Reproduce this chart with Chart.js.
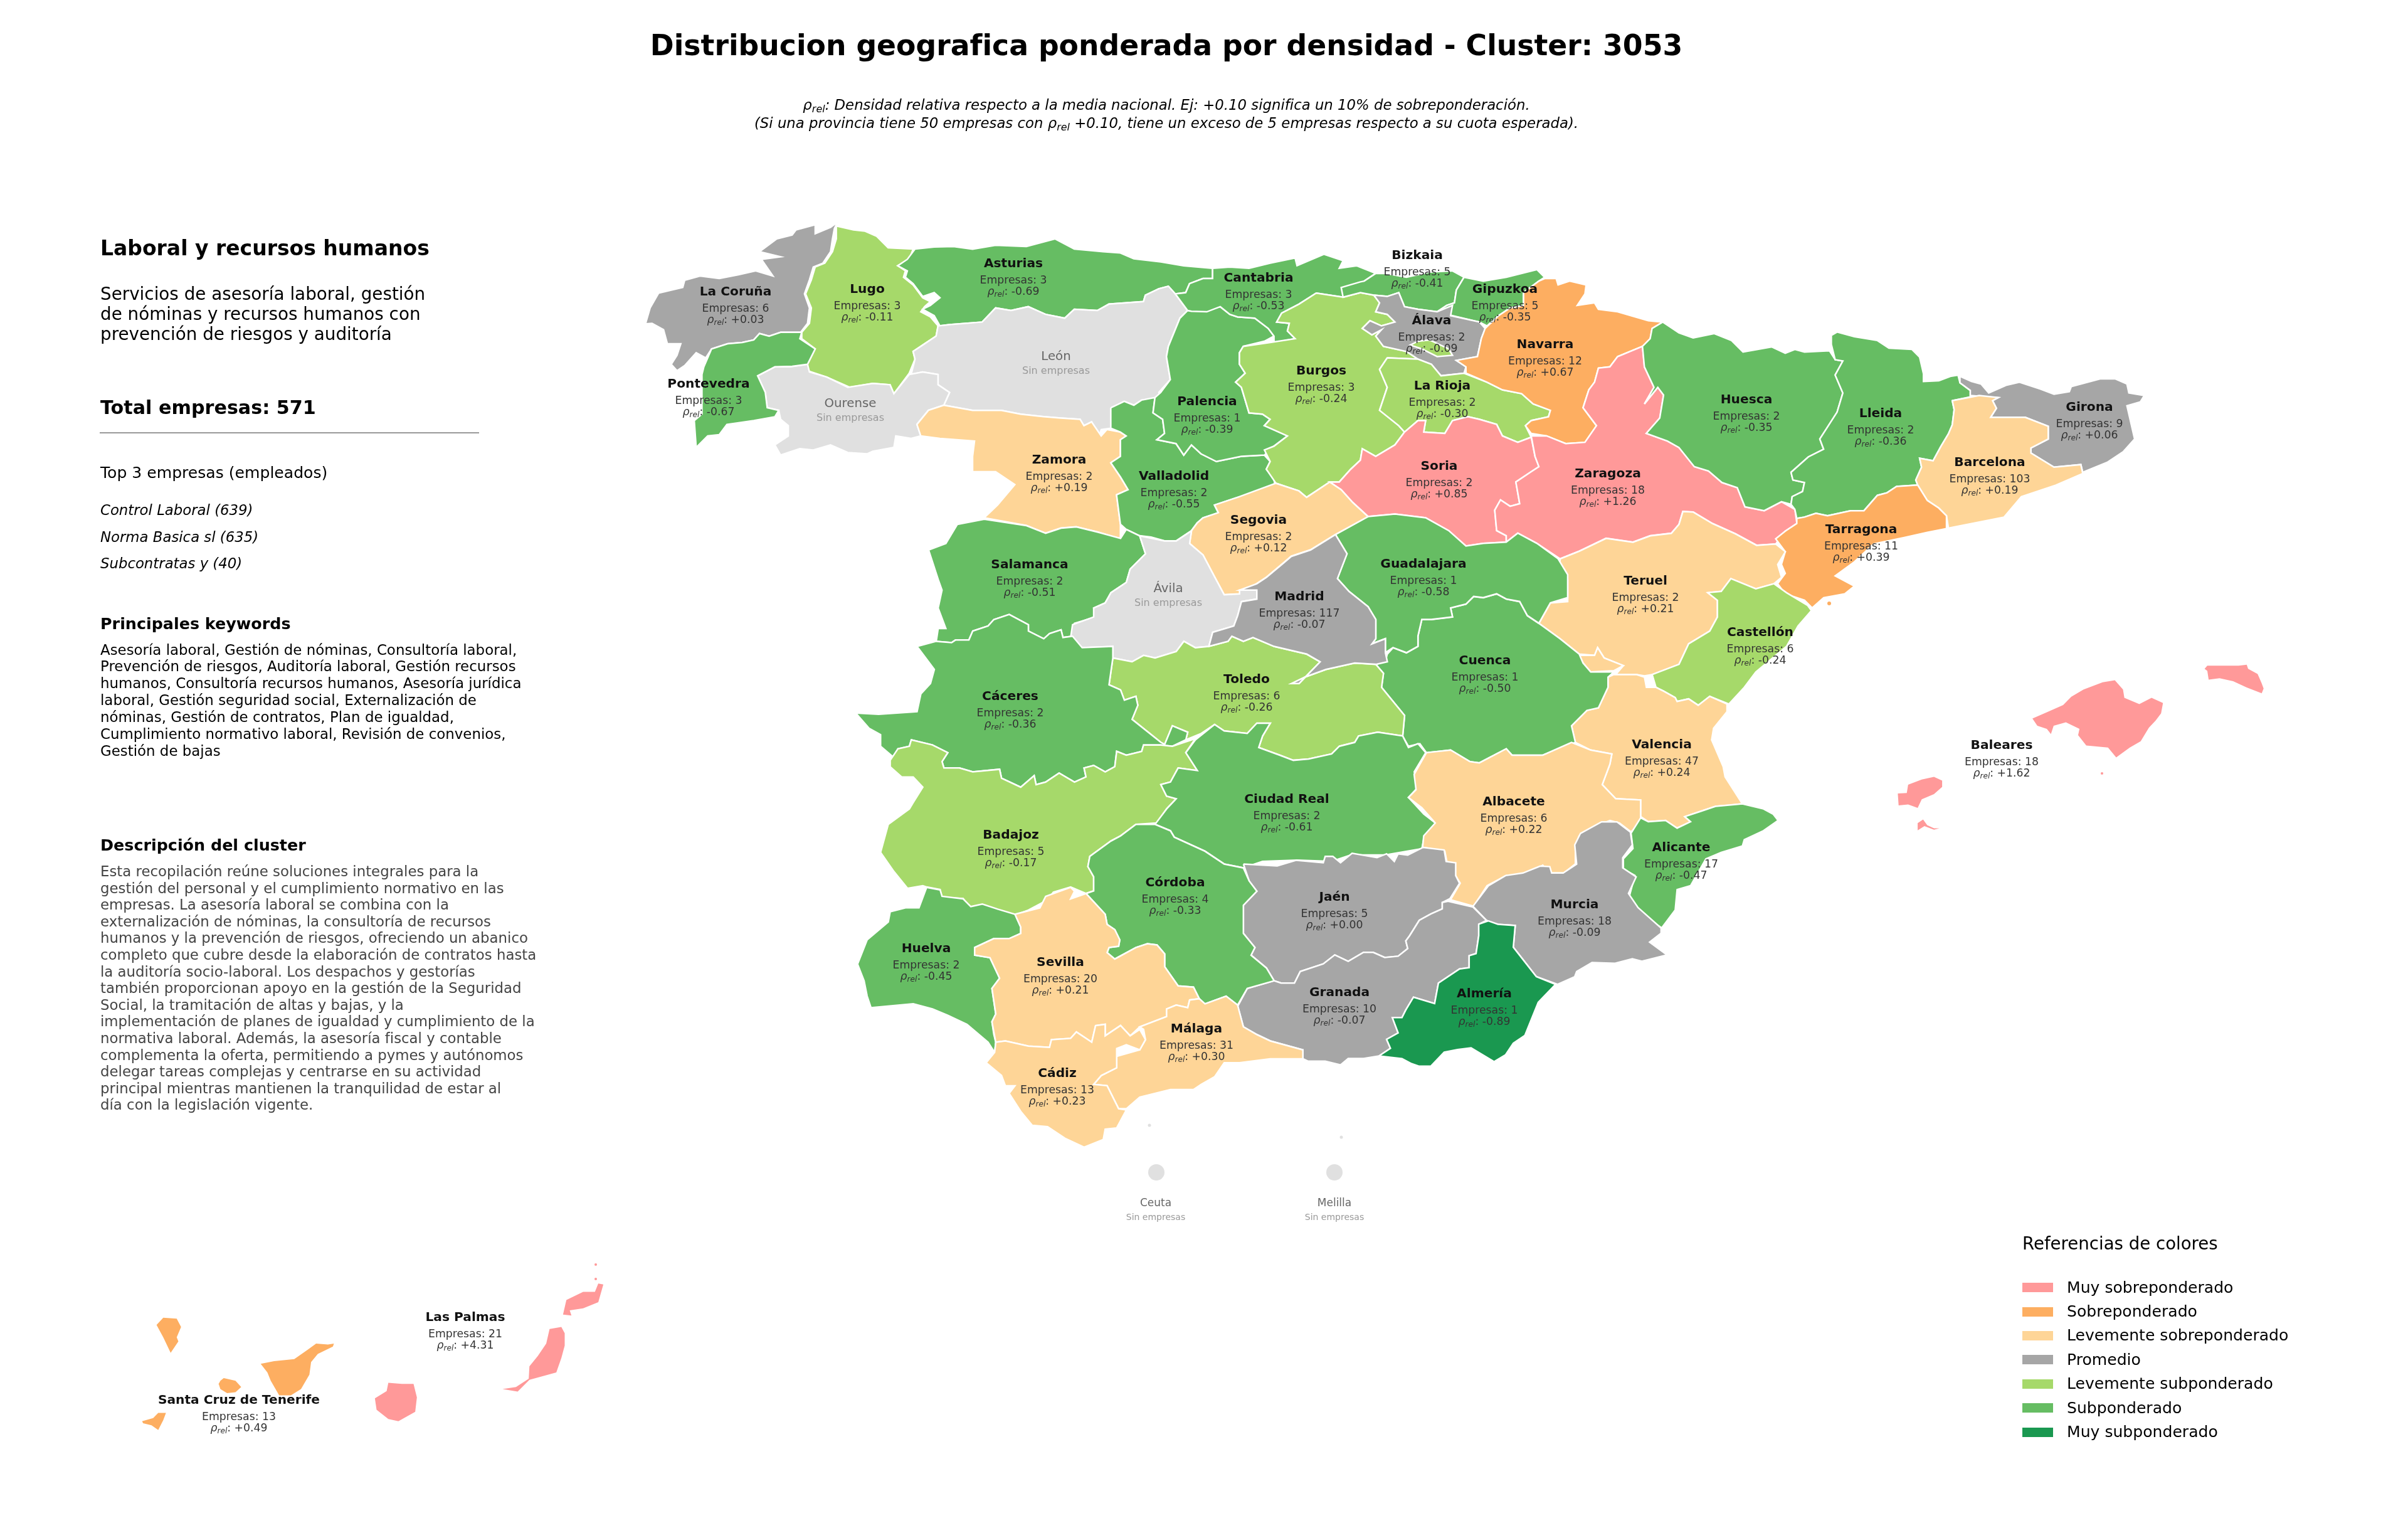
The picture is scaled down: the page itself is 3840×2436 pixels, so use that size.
<!DOCTYPE html>
<html lang="es">
<head>
<meta charset="utf-8">
<title>Cluster 3053</title>
<script src="https://cdn.jsdelivr.net/npm/chart.js@4"></script>
<style>
  html, body { margin: 0; padding: 0; background: #fff; }
  body { position: relative; width: 3840px; height: 2436px; overflow: hidden; font-family: "DejaVu Sans", sans-serif; color: #000; }
  canvas { position: absolute; left: 0; top: 0; display: block; }
  .t { position: absolute; white-space: nowrap; line-height: 1; }
  .c { transform: translate(-50%, -50%); }
  .l { transform: translateY(-50%); }
  sub { font-size: .7em; line-height: 0; vertical-align: -.25em; }
  .name { font-size: 20.2px; font-weight: bold; color: #111; }
  .emp { font-size: 17.3px; color: #333; }
  #panel, #labels, #legend { position: absolute; left: 0; top: 0; }
</style>
</head>
<body>
<canvas id="mapa" width="3840" height="2436"></canvas>
<div id="labels"></div>
<div id="panel"></div>
<div id="legend"></div>
<script>
// Marcos de lectura: cada contorno se leyo de un recorte de la imagen
const A = [1000, 340, .6122, .408], B = [1900, 340, .6122, .408], C = [2700, 500, .6122, .408];
const D = [1340, 900, .6122, .408], E = [2200, 900, .6122, .408], F = [1340, 1380, .6122, .408];
const G = [2000, 1300, .6122, .408], H = [180, 2000, .5357, .33], I = [2980, 1030, .4337, .33];

function trace(f, v) {
  const pts = [];
  for (let i = 0; i < v.length; i += 2) pts.push({ x: f[0] + v[i] * f[2], y: f[1] + v[i + 1] * f[3] });
  pts.push(pts[0]);
  return pts;
}

// Datos por provincia
const provinces = ['La Coruña','Lugo','Asturias','Cantabria','Bizkaia','Gipuzkoa','Álava','Navarra','Pontevedra','Ourense','León','Palencia','Burgos','La Rioja','Huesca','Lleida','Girona','Barcelona','Tarragona','Zaragoza','Soria','Zamora','Valladolid','Segovia','Guadalajara','Teruel','Castellón','Salamanca','Ávila','Madrid','Cáceres','Toledo','Cuenca','Valencia','Badajoz','Ciudad Real','Albacete','Alicante','Córdoba','Jaén','Murcia','Huelva','Sevilla','Granada','Almería','Málaga','Cádiz','Baleares','Las Palmas','Santa Cruz de Tenerife','Ceuta','Melilla'];
const empresas = [6,3,3,3,5,5,2,12,3,0,0,1,3,2,2,2,9,103,11,18,2,2,2,2,1,2,6,2,0,117,2,6,1,47,5,2,6,17,4,5,18,2,20,10,1,31,13,18,21,13,0,0];
const rho = [.03,-.11,-.69,-.53,-.41,-.35,-.09,.67,-.67,null,null,-.39,-.24,-.30,-.35,-.36,.06,.19,.39,1.26,.85,.19,-.55,.12,-.58,.21,-.24,-.51,null,-.07,-.36,-.26,-.50,.24,-.17,-.61,.22,-.47,-.33,0,-.09,-.45,.21,-.07,-.89,.30,.23,1.62,4.31,.49,null,null];
const labelX = [1173,1383,1616,2007,2260,2400,2283,2464,1130,1356,1684,1925,2107,2300,2785,2999,3332,3173,2968,2564,2295,1689,1872,2007,2270,2624,2807,1642,1863,2072,1611,1988,2368,2650,1612,2052,2414,2681,1874,2128,2511,1477,1691,2136,2367,1908,1686,3192,742,381,1843,2128];
const labelY = [464,460,419,442,406,460,510,548,611,643,568,639,590,614,636,658,648,736,843,754,742,732,758,828,898,925,1007,899,938,950,1109,1082,1052,1186,1330,1273,1277,1350,1406,1429,1441,1511,1533,1581,1583,1639,1710,1187,2099,2231,1917,1917];

const legendLabels = ['Muy sobreponderado','Sobreponderado','Levemente sobreponderado','Promedio','Levemente subponderado','Subponderado','Muy subponderado'];
const legendColors = ['#ff9999','#fdae61','#fed597','#a6a6a6','#a6d96a','#66bd63','#1a9850'];
const noDataColor = '#e0e0e0';

// Contornos
const coruna = trace(A,[548,35,540,60,535,100,530,150,510,195,485,210,475,260,462,315,475,370,470,430,452,465,400,465,370,480,345,470,330,495,300,505,262,510,220,530,205,565,180,545,150,595,130,615,115,590,130,555,140,510,105,510,95,455,65,430,48,432,60,370,82,312,145,290,150,262,190,245,240,255,290,240,335,225,380,245,350,180,400,170,345,150,390,100,430,85,440,65,490,45,490,80,530,55]);
const lugo = trace(A,[545,50,590,65,620,70,650,90,680,135,745,140,735,180,705,205,725,225,720,250,745,280,770,330,790,345,775,365,765,385,790,405,810,440,805,480,770,515,745,540,750,570,735,625,695,705,685,670,640,665,580,680,520,640,470,615,470,590,490,530,455,490,455,465,475,430,480,370,465,315,480,260,490,210,515,195,535,150,545,100]);
const asturias = trace(A,[750,140,800,132,850,130,900,140,960,125,1040,130,1115,100,1165,140,1240,150,1285,155,1320,178,1390,190,1450,205,1525,215,1525,255,1500,255,1465,275,1455,310,1428,315,1410,285,1385,295,1350,320,1345,345,1300,350,1255,355,1225,380,1165,375,1140,410,1090,395,1045,365,1000,380,960,370,925,425,840,435,815,440,800,400,770,375,790,360,815,330,800,310,770,325,745,275,725,250,730,225,705,205,730,180]);
const leon = trace(A,[840,435,925,425,960,370,1000,380,1045,365,1090,395,1140,410,1165,375,1225,380,1255,355,1345,345,1350,320,1385,295,1410,285,1428,315,1460,380,1440,410,1410,520,1405,560,1415,650,1385,700,1390,720,1340,730,1320,750,1295,735,1265,760,1260,840,1235,845,1230,870,1210,815,1190,830,1180,805,1130,800,1085,795,1025,785,975,770,900,770,825,750,840,700,810,670,810,630,770,620,740,630,750,570,745,540,770,515,805,480,810,440]);
const ourense = trace(A,[340,635,385,600,425,600,470,590,475,620,520,640,575,680,640,665,685,670,695,705,735,630,770,620,810,630,810,670,840,700,825,750,785,770,755,825,765,870,740,880,700,870,695,915,640,930,625,940,575,935,530,905,485,925,450,920,400,945,385,905,420,870,420,830,400,805,395,770,365,760,360,700]);
const pontevedra = trace(A,[455,465,450,490,490,530,470,590,430,598,385,600,340,635,360,700,365,760,395,770,385,795,330,810,285,820,260,825,240,865,210,870,180,915,175,810,195,785,195,630,200,600,220,530,262,510,300,505,330,495,345,470,370,480,400,465]);
const zamora = trace(A,[825,750,900,770,975,770,1025,785,1085,795,1130,800,1180,805,1190,830,1210,815,1235,870,1250,845,1285,855,1300,870,1285,885,1285,950,1260,975,1285,1030,1305,1080,1275,1100,1285,1215,1285,1270,1270,1265,1225,1245,1170,1225,1130,1230,1090,1250,1040,1220,930,1190,965,1140,1010,1060,960,1010,900,1010,900,950,905,890,815,880,765,870,755,825,785,770]);
const valladolid = trace(A,[1260,760,1295,735,1320,750,1340,730,1375,720,1370,780,1395,805,1400,860,1380,885,1430,900,1450,945,1470,905,1495,940,1535,970,1600,950,1660,945,1675,970,1665,1000,1685,1040,1690,1080,1590,1110,1530,1140,1540,1170,1500,1190,1485,1210,1470,1240,1430,1280,1400,1280,1365,1265,1335,1260,1300,1235,1285,1215,1275,1100,1305,1080,1285,1030,1260,975,1285,950,1285,885,1300,870,1285,855,1260,840]);
const palencia = trace(A,[1460,380,1510,378,1545,365,1570,395,1590,405,1635,410,1670,450,1685,480,1660,500,1605,520,1595,545,1595,590,1610,625,1585,660,1600,680,1620,780,1655,785,1675,805,1660,830,1720,870,1685,910,1660,945,1600,950,1535,970,1495,940,1470,905,1450,945,1430,900,1380,885,1400,860,1395,805,1370,780,1375,720,1390,700,1415,650,1405,560,1410,520,1440,410]);
const cantabria = trace(B,[55,215,100,210,150,215,205,195,270,175,275,205,345,160,395,185,385,215,430,205,480,235,450,265,440,310,395,328,325,312,280,355,235,390,222,425,255,430,250,460,270,490,215,505,215,480,200,450,165,410,120,405,100,395,75,365,40,385,0,383,-10,380,-42,315,-15,310,-5,275,30,255,55,255]);
const bizkaia = trace(B,[480,235,505,235,560,250,620,230,680,225,710,250,690,300,685,350,665,360,640,385,590,375,555,365,540,310,510,325,475,320,440,310,395,328,390,290,440,268,450,265]);
const gipuzkoa = trace(B,[710,250,760,265,820,250,900,220,920,250,905,265,865,310,865,360,830,370,800,400,770,440,750,425,680,400,640,385,665,360,685,350,690,300]);
const alava = trace(B,[475,320,510,325,540,310,555,365,590,375,640,385,680,360,675,400,750,425,765,450,755,490,745,560,690,575,715,600,710,625,650,635,625,590,590,570,560,540,500,520,480,480,495,455,470,475,445,450,465,420,495,440,530,425,510,395,480,385,490,350]);
const burgos = trace(B,[325,312,395,328,440,310,475,320,490,350,480,385,510,395,530,425,495,440,465,420,445,450,470,475,495,455,480,480,500,520,560,540,590,570,510,565,490,610,510,680,490,770,540,830,555,855,530,905,480,950,445,920,440,965,415,1000,385,1050,360,1050,300,1110,280,1085,220,1055,195,1000,205,970,190,925,215,910,250,870,190,830,205,805,185,785,150,780,130,680,115,660,140,625,125,590,125,545,135,520,205,505,270,490,250,460,255,430,222,425,235,390,280,355]);
const trevino = trace(B,[590,500,620,495,670,530,680,555,640,560,600,530,570,515]);
const rioja = trace(B,[510,565,590,570,625,590,650,635,710,625,770,660,810,690,860,705,890,745,935,770,930,795,885,810,870,830,885,875,850,895,810,870,795,825,750,805,720,795,680,810,660,860,605,855,610,810,590,810,555,855,540,830,490,770,510,680,490,610]);
const navarra = trace(B,[920,255,950,255,955,280,985,265,1028,280,1025,315,1005,360,1050,350,1060,375,1110,385,1190,420,1228,425,1200,450,1195,490,1175,520,1110,560,1090,600,1060,605,1050,660,1035,690,1020,760,1055,830,1025,895,975,900,925,870,885,860,870,830,885,810,930,795,935,770,890,745,860,705,810,690,770,660,715,625,715,600,690,575,745,560,755,490,765,450,800,400,830,370,865,360,865,310,905,265]);
const soria = trace(B,[590,810,610,810,605,855,660,860,680,810,720,795,750,805,795,825,810,870,850,895,885,875,895,950,905,990,885,1010,845,1050,855,1135,830,1145,805,1120,790,1160,795,1240,820,1260,820,1285,760,1290,715,1300,670,1240,610,1190,530,1175,460,1185,420,1130,390,1080,360,1050,385,1050,415,1000,440,965,445,920,480,950,530,905,555,855]);
const zaragoza = trace(B,[885,870,925,870,975,900,1025,895,1055,830,1020,760,1035,690,1050,660,1060,605,1090,600,1110,560,1175,520,1180,600,1205,680,1180,745,1215,680,1230,710,1220,800,1185,860,1240,890,1270,915,1310,990,1347,1007,1382,1052,1422,1072,1442,1147,1492,1162,1537,1127,1572,1157,1577,1212,1547,1242,1522,1292,1472,1297,1417,1252,1357,1212,1307,1167,1280,1165,1270,1215,1250,1250,1195,1260,1150,1285,1080,1270,1010,1320,960,1350,900,1290,850,1250,820,1285,820,1260,795,1240,790,1160,805,1120,830,1145,855,1135,845,1050,885,1010,905,990,895,950]);
const huesca = trace(C,[-79,33,-37,75,0,95,55,78,100,105,130,150,205,130,240,155,265,140,290,150,355,145,370,180,390,185,370,240,390,310,375,385,330,490,340,530,300,560,255,620,260,650,290,660,285,695,258,715,255,745,230,735,185,770,135,755,115,680,75,660,40,615,3,598,-37,523,-67,498,-122,468,-87,408,-77,318,-92,288,-127,353,-102,288,-127,208,-132,128,-112,98,-107,58]);
const lleida = trace(C,[360,85,375,72,420,90,480,105,510,135,570,140,590,170,600,235,600,265,640,262,670,245,690,240,695,270,722,300,722,325,675,340,680,375,675,435,665,470,645,520,625,575,590,565,595,600,580,650,585,670,530,675,505,700,480,710,445,770,410,770,350,790,320,780,290,795,270,800,265,765,255,745,258,715,285,695,290,660,260,650,255,620,300,560,340,530,330,490,375,385,390,310,370,240,390,185,370,180,360,120]);
const girona = trace(C,[695,245,725,265,750,275,770,310,815,280,850,268,905,295,940,315,980,305,985,285,1060,255,1100,255,1130,275,1135,310,1175,320,1165,345,1130,360,1150,490,1120,540,1080,580,1015,620,1010,590,940,600,880,545,880,525,925,490,925,440,865,405,775,405,790,370,780,340,795,328,722,320,722,300,695,270]);
const barcelona = trace(C,[675,340,745,320,795,328,780,340,790,370,775,405,865,405,925,440,925,490,880,525,880,545,940,600,1010,590,1015,625,945,670,855,715,810,795,665,838,660,790,640,760,610,730,585,670,580,650,595,600,590,565,625,575,645,520,665,470,675,435,680,375]);
const tarragona = trace(C,[270,800,290,795,320,780,350,790,410,770,445,770,480,710,505,700,530,675,585,670,610,730,640,760,660,790,660,840,610,855,550,875,470,900,420,970,370,1025,420,1065,395,1095,340,1110,310,1150,290,1120,240,1095,220,1055,240,1015,230,980,240,930,215,880,240,850,270,820]);
const teruel = trace(E,[470,-22,520,-52,590,-102,660,-87,705,-112,760,-122,780,-157,790,-207,817,-205,867,-160,927,-120,982,-75,1032,-80,1057,-50,1037,0,1047,50,1027,75,980,95,915,55,890,105,855,110,880,140,880,205,860,260,805,310,780,390,710,430,690,435,670,430,615,430,635,395,585,365,568,325,560,355,520,350,470,290,415,230,445,150,490,145,490,60,470,20]);
const castellon = trace(E,[1027,75,1060,110,1115,160,1125,180,1090,240,1060,320,980,420,950,480,910,545,860,515,830,550,805,525,775,535,770,520,740,495,720,480,710,430,780,390,805,310,860,260,880,205,880,140,855,110,890,105,915,55,980,95]);
const valencia = trace(E,[610,430,670,430,690,440,695,480,720,480,740,495,770,520,775,535,805,525,830,550,860,515,905,545,905,575,870,640,865,685,895,790,900,830,945,935,915,940,875,945,835,965,795,985,810,1005,775,1030,745,1000,700,1005,680,985,680,920,615,915,580,860,600,780,605,740,550,725,510,695,500,630,540,570,570,560,595,480,595,440]);
const ademuz = trace(E,[520,355,560,355,568,325,585,365,635,395,610,415,550,420,530,385]);
const cuenca = trace(E,[415,230,385,200,365,145,330,135,305,115,270,130,245,125,225,155,185,170,190,205,135,215,110,215,100,280,100,320,70,345,35,325,20,350,15,380,-10,390,10,425,5,480,65,590,60,670,75,710,105,700,122,735,185,725,235,770,260,775,330,720,345,745,425,745,510,695,500,630,540,570,570,560,595,480,595,440,610,420,550,420,530,385,520,350,470,290]);
const guadalajara = trace(B,[375,1255,460,1185,530,1175,610,1190,670,1240,715,1300,760,1290,820,1285,850,1250,900,1290,955,1350,980,1412,980,1502,935,1522,905,1602,875,1572,855,1517,820,1507,795,1487,760,1502,735,1497,715,1527,675,1542,680,1577,625,1587,600,1587,590,1652,590,1692,560,1717,525,1697,505,1717,505,1662,470,1682,480,1662,480,1587,460,1537,410,1477,380,1427,405,1330]);
const segovia = trace(B,[120,1110,220,1055,280,1085,300,1110,360,1050,390,1080,420,1130,460,1185,375,1255,310,1315,260,1340,235,1372,195,1422,170,1447,125,1487,85,1490,60,1420,30,1335,-5,1290,0,1240,15,1210,30,1190,70,1170,60,1140]);
const salamanca = trace(D,[305,-157,375,-177,485,-152,535,-122,575,-142,615,-147,670,-127,730,-102,745,-137,780,-112,795,-42,755,18,745,70,705,110,690,150,660,170,665,205,610,230,605,280,580,285,575,255,545,270,530,290,490,260,490,235,440,195,400,215,385,240,345,260,335,295,300,295,290,305,250,300,255,250,275,250,255,170,265,100,255,58,230,-57,275,-82]);
const avila = trace(D,[780,-112,845,-92,875,-92,915,-132,910,-82,945,-37,975,48,1000,118,1040,115,1040,100,1085,100,1085,135,1045,145,1035,200,1025,240,970,265,960,320,925,325,895,300,875,340,820,365,790,355,760,380,710,365,710,320,630,325,600,285,605,235,660,205,660,170,690,150,705,110,745,70,755,18,795,-42]);
const madrid = trace(D,[1290,-117,1320,-42,1295,55,1325,105,1375,165,1395,215,1395,290,1385,310,1420,290,1420,345,1425,380,1395,390,1340,385,1265,410,1210,440,1175,465,1195,465,1250,380,1215,350,1130,320,1075,285,1050,300,1020,280,1010,300,960,320,970,265,1025,240,1035,200,1045,145,1085,135,1085,100,1040,100,1085,75,1110,50,1150,0,1175,-32,1225,-57]);
const toledo = trace(D,[710,365,760,380,790,355,820,365,875,340,895,300,925,325,960,320,1010,300,1020,280,1050,300,1075,285,1130,320,1215,350,1250,380,1195,465,1210,440,1265,410,1340,385,1395,390,1415,425,1410,480,1470,590,1465,670,1400,655,1350,670,1340,695,1300,710,1280,740,1220,760,1180,765,1145,745,1090,715,1100,670,1120,620,1085,620,1060,660,1000,650,975,625,940,660,900,685,905,655,865,630,845,703,835,695,760,605,775,550,770,515,740,530,730,490,700,470]);
const caceres = trace(D,[250,300,290,305,300,295,335,295,345,260,385,240,400,215,440,195,490,235,490,260,530,290,545,270,575,255,580,285,605,280,630,325,710,320,710,365,700,470,730,490,740,530,770,515,775,550,760,605,835,695,845,703,865,630,905,655,900,685,865,710,835,705,790,705,785,730,745,745,720,730,715,790,690,810,660,785,635,795,640,830,610,850,570,815,535,850,510,860,505,825,470,870,420,835,415,800,345,810,310,795,270,795,265,770,280,735,240,705,185,685,180,710,150,720,140,755,105,710,105,665,75,640,40,580,100,585,200,575,210,505,235,465,245,410,200,320]);
const badajoz = trace(D,[130,765,150,720,180,710,185,685,240,705,280,735,265,770,270,795,310,795,345,810,415,800,420,835,470,870,505,825,510,860,535,850,570,815,610,850,640,830,635,795,660,785,690,810,715,790,720,730,745,745,785,730,790,705,835,705,865,710,925,680,900,735,930,805,880,795,860,850,835,860,850,905,875,915,850,955,825,1010,770,1015,730,1060,705,1080,650,1140,645,1180,660,1220,660,1275,640,1285,600,1260,555,1280,540,1310,490,1350,455,1370,400,1350,335,1335,320,1305,265,1300,260,1270,225,1260,215,1255,175,1265,140,1200,105,1125,125,1015,180,955,190,930,215,870,190,830,160,830,130,790]);
const ciudadReal = trace(D,[925,685,975,625,1000,650,1060,660,1085,620,1120,620,1100,670,1090,715,1145,745,1180,765,1220,760,1280,740,1300,710,1340,695,1350,670,1400,655,1465,670,1480,715,1505,700,1525,735,1495,810,1505,870,1480,910,1520,975,1550,1010,1520,1070,1515,1110,1420,1135,1330,1135,1280,1160,1190,1155,1100,1160,1050,1185,1000,1170,950,1120,870,1065,860,1040,820,1015,850,955,875,915,850,905,835,860,860,850,880,795,930,805,900,735]);
const albacete = trace(E,[122,735,185,725,235,770,260,775,330,720,345,745,425,745,500,695,550,725,605,740,600,780,580,860,615,915,680,920,680,1005,655,1045,625,1010,600,1000,550,1030,520,1060,510,1100,510,1170,480,1205,445,1205,425,1175,375,1220,330,1215,280,1255,245,1335,185,1310,210,1245,175,1160,170,1120,112,1105,115,1060,145,1010,110,950,75,910,95,880,90,820]);
const alicante = trace(E,[680,990,700,1005,745,1000,775,1030,810,1005,795,985,835,965,875,945,945,935,1000,955,1025,975,1038,1000,1000,1040,950,1075,945,1100,890,1125,850,1150,810,1255,775,1270,770,1350,735,1420,690,1375,650,1300,665,1215,635,1190,635,1150,660,1110,655,1050]);
const murcia = trace(G,[980,65,985,115,960,165,960,205,995,240,975,305,1000,360,1060,440,1060,460,1030,495,1075,545,1010,570,985,560,940,578,880,575,840,610,835,630,790,660,735,630,675,515,680,430,630,425,605,410,570,355,610,275,655,235,700,225,745,198,770,200,775,225,805,225,840,190,835,115,850,70,905,25,945,25]);
const jaen = trace(G,[-28,190,60,197,110,175,180,185,185,160,205,160,225,185,255,148,320,165,345,150,365,180,375,150,400,155,440,125,495,135,500,180,525,185,525,235,535,265,510,325,490,340,490,365,460,385,430,410,405,470,395,490,400,520,375,550,340,555,310,535,285,535,245,570,210,545,180,580,120,610,105,655,70,655,52,646,32,596,-8,546,2,516,-28,461,-28,351,7,296,-13,256]);
const granada = trace(G,[505,335,570,358,605,410,585,425,585,470,578,540,560,548,560,595,535,600,480,655,470,735,415,710,395,760,385,790,360,790,375,850,345,875,355,910,325,940,285,950,245,950,225,975,185,960,140,960,127,951,127,916,42,881,7,856,-28,826,-43,746,-18,676,52,646,70,655,105,655,120,610,180,580,210,545,245,570,285,535,310,535,340,555,375,550,400,520,395,490,405,470,430,410,460,385,490,365,490,340]);
const almeria = trace(G,[610,412,635,425,680,430,675,515,735,630,785,660,740,730,705,860,675,890,655,935,625,962,565,908,530,915,495,925,460,980,430,980,410,970,385,950,325,940,355,910,345,875,375,850,360,790,385,790,395,760,415,710,470,735,480,655,535,600,560,595,560,548,578,540,585,470,585,425]);
const cordoba = trace(F,[770,-161,820,-161,860,-136,870,-111,950,-56,1000,-6,1050,9,1065,60,1085,100,1050,155,1050,265,1080,320,1070,350,1110,400,1130,450,1060,480,1035,545,1005,510,950,540,935,520,920,475,880,470,845,395,845,345,825,310,800,305,770,320,715,365,695,340,700,320,725,315,728,290,715,250,695,230,690,190,640,109,660,99,660,44,645,4,650,-36,705,-96,730,-116]);
const huelva = trace(F,[225,85,260,95,265,120,320,130,340,160,370,150,410,170,455,190,470,240,470,265,440,285,400,285,350,320,350,350,390,360,415,440,395,480,405,580,395,610,400,660,405,690,402,730,385,690,330,620,280,585,240,560,190,540,80,555,70,510,62,450,45,385,70,290,125,220,130,180,170,165,205,165]);
const sevilla = trace(F,[455,190,520,165,535,120,600,85,610,100,600,130,640,109,690,190,695,230,715,250,728,290,725,315,700,320,695,340,715,365,770,320,800,305,825,310,845,345,845,395,880,470,920,475,935,520,910,525,905,555,875,545,850,560,850,590,780,630,755,665,730,625,690,665,690,620,665,625,655,690,615,650,600,675,550,680,545,710,490,705,430,685,405,690,395,610,405,580,395,480,415,440,390,360,350,350,350,320,400,285,440,285,470,265,470,240]);
const malaga = trace(F,[935,520,950,540,1005,510,1035,545,1050,630,1085,660,1120,685,1205,720,1205,755,1120,755,1040,770,1000,770,975,825,940,855,920,875,860,875,780,905,745,950,725,950,695,860,660,855,680,820,720,790,720,745,780,720,795,680,790,640,780,630,850,590,850,560,875,545,905,555,910,525]);
const cadiz = trace(F,[405,690,430,685,490,705,545,710,550,680,600,675,615,650,655,690,665,625,690,620,690,665,730,625,755,665,780,640,795,680,780,720,745,700,720,715,720,790,680,820,660,855,695,860,725,950,745,955,720,1025,690,1030,685,1070,635,1100,585,1065,540,1020,500,1015,470,960,440,890,455,860,430,860,420,820,380,770,402,730]);
const mallorca = trace(I,[602,350,655,320,715,285,745,245,790,210,860,175,905,165,935,210,940,250,995,280,1040,250,1082,275,1075,325,1055,360,1030,395,1000,460,960,490,910,538,880,490,800,480,770,430,775,400,725,368,680,385,670,425,655,400,620,385]);
const menorca = trace(I,[1235,110,1245,95,1300,95,1360,95,1390,90,1395,110,1430,135,1445,180,1452,205,1445,228,1390,200,1340,170,1290,155,1250,162,1245,120]);
const ibiza = trace(I,[107,712,140,710,145,670,195,645,240,632,270,650,270,680,240,715,195,740,180,782,145,765,110,770]);
const formentera = trace(I,[180,855,200,838,215,865,240,880,260,880,240,887,205,870,180,890]);
const laPalma = trace(H,[130,340,150,305,190,310,203,350,190,400,195,420,172,475,150,400]);
const tenerife = trace(H,[440,528,480,515,540,505,580,460,605,430,640,435,658,430,655,445,610,480,590,520,585,580,560,650,530,680,495,680,470,610,460,570]);
const gomera = trace(H,[320,610,330,597,365,610,382,640,365,665,340,670,320,650,315,625]);
const hierro = trace(H,[87,805,120,790,135,765,158,765,150,800,135,848,115,825,90,815]);
const granCanaria = trace(H,[820,620,860,625,895,625,905,690,900,760,850,805,820,795,785,750,780,695,815,660]);
const fuerteventura = trace(H,[1300,360,1335,350,1345,380,1345,440,1335,500,1320,570,1240,605,1205,662,1160,650,1200,640,1238,600,1240,540,1265,490,1290,430]);
const lanzarote = trace(H,[1340,290,1350,220,1400,180,1435,180,1445,140,1460,145,1445,230,1400,260,1360,270,1365,295]);

// Ceuta y Melilla se dibujan como puntos, igual que los islotes diminutos
const ciudadesAutonomas = [{ x: 1844, y: 1869 }, { x: 2128, y: 1869 }];
const islotesGrises = [{ x: 1833, y: 1794 }, { x: 2139, y: 1813 }];
const islotesRosas = [{ x: 3352, y: 1233 }, { x: 950, y: 2039 }, { x: 950, y: 2016 }];
const islotesNaranjas = [{ x: 2917, y: 962 }];

const shapes = [
  ['La Coruña', coruna], ['Lugo', lugo], ['Asturias', asturias], ['León', leon], ['Ourense', ourense], ['Pontevedra', pontevedra],
  ['Zamora', zamora], ['Valladolid', valladolid], ['Palencia', palencia], ['Cantabria', cantabria], ['Burgos', burgos],
  ['Bizkaia', bizkaia], ['Gipuzkoa', gipuzkoa], ['Álava', alava], ['Burgos', trevino], ['La Rioja', rioja], ['Navarra', navarra],
  ['Soria', soria], ['Zaragoza', zaragoza], ['Huesca', huesca], ['Lleida', lleida], ['Girona', girona], ['Barcelona', barcelona],
  ['Tarragona', tarragona], ['Teruel', teruel], ['Castellón', castellon], ['Valencia', valencia], ['Valencia', ademuz], ['Cuenca', cuenca],
  ['Guadalajara', guadalajara], ['Segovia', segovia], ['Salamanca', salamanca], ['Ávila', avila], ['Toledo', toledo], ['Madrid', madrid],
  ['Cáceres', caceres], ['Badajoz', badajoz], ['Ciudad Real', ciudadReal], ['Albacete', albacete], ['Alicante', alicante], ['Murcia', murcia],
  ['Jaén', jaen], ['Granada', granada], ['Almería', almeria], ['Córdoba', cordoba], ['Huelva', huelva], ['Sevilla', sevilla], ['Málaga', malaga],
  ['Cádiz', cadiz], ['Baleares', mallorca], ['Baleares', menorca], ['Baleares', ibiza], ['Baleares', formentera],
  ['Santa Cruz de Tenerife', laPalma], ['Santa Cruz de Tenerife', tenerife], ['Santa Cruz de Tenerife', gomera], ['Santa Cruz de Tenerife', hierro],
  ['Las Palmas', granCanaria], ['Las Palmas', fuerteventura], ['Las Palmas', lanzarote]
];

// Color segun la densidad relativa
function colorFor(value) {
  if (value === null) return noDataColor;
  if (value > .70) return legendColors[0];
  if (value > .30) return legendColors[1];
  if (value >= .10) return legendColors[2];
  if (value > -.10) return legendColors[3];
  if (value >= -.30) return legendColors[4];
  if (value > -.70) return legendColors[5];
  return legendColors[6];
}

const islands = ['Baleares', 'Santa Cruz de Tenerife', 'Las Palmas'];
const datasets = shapes.map(function(s, i) {
  const color = colorFor(rho[provinces.indexOf(s[0])]);
  return {
    label: s[0],
    data: s[1],
    showLine: true,
    fill: 'shape',
    tension: 0,
    backgroundColor: color,
    borderColor: islands.includes(s[0]) ? color : '#ffffff',
    borderWidth: islands.includes(s[0]) ? 0 : 2.5,
    pointRadius: 0,
    order: shapes.length - i
  };
});
[[ciudadesAutonomas, noDataColor, 13], [islotesGrises, noDataColor, 2.5], [islotesRosas, legendColors[0], 2], [islotesNaranjas, legendColors[1], 3]].forEach(function(p) {
  datasets.push({ data: p[0], pointRadius: p[2], pointBackgroundColor: p[1], pointBorderWidth: 0, order: 0 });
});

const chart = new Chart(document.getElementById('mapa'), {
  type: 'scatter',
  data: { datasets: datasets },
  options: {
    responsive: false,
    animation: false,
    devicePixelRatio: 1,
    events: [],
    layout: { padding: 0, autoPadding: false },
    plugins: { legend: { display: false }, tooltip: { enabled: false } },
    scales: {
      x: { type: 'linear', min: 0, max: 3840, display: false },
      y: { type: 'linear', min: 0, max: 2436, reverse: true, display: false }
    }
  }
});

function addText(parent, html, x, y, cls, style) {
  const el = document.createElement('div');
  el.className = 't ' + cls;
  el.innerHTML = html;
  el.style.cssText = 'left:' + x + 'px;top:' + y + 'px;' + (style || '');
  parent.appendChild(el);
}

// Etiquetas de provincia, colocadas con las escalas del grafico
const labels = document.getElementById('labels');
const RHO = '<i>ρ<sub>rel</sub></i>';
provinces.forEach(function(name, i) {
  const x = chart.scales.x.getPixelForValue(labelX[i]);
  const y = chart.scales.y.getPixelForValue(labelY[i]);
  if (rho[i] === null) {
    const small = name === 'Ceuta' || name === 'Melilla';
    addText(labels, name, x, y, 'c', 'color:#666;font-size:' + (small ? 17 : 19.8) + 'px');
    addText(labels, 'Sin empresas', x, y + 23, 'c', 'color:#999;font-size:' + (small ? 14 : 16) + 'px');
    return;
  }
  const sign = rho[i] >= 0 ? '+' : '-';
  addText(labels, name, x, y, 'c name');
  addText(labels, 'Empresas: ' + empresas[i], x, y + 28, 'c emp');
  addText(labels, RHO + ': ' + sign + Math.abs(rho[i]).toFixed(2), x, y + 46, 'c emp');
});

// Titulo y panel izquierdo
const panel = document.getElementById('panel');
addText(panel, 'Distribucion geografica ponderada por densidad - Cluster: 3053', 1860, 73, 'c', 'font-size:45.7px;font-weight:bold');
addText(panel, RHO + ': Densidad relativa respecto a la media nacional. Ej: +0.10 significa un 10% de sobreponderación.', 1860, 167, 'c', 'font-size:22.8px;font-style:italic');
addText(panel, '(Si una provincia tiene 50 empresas con ' + RHO + ' +0.10, tiene un exceso de 5 empresas respecto a su cuota esperada).', 1860, 196, 'c', 'font-size:22.8px;font-style:italic');

addText(panel, 'Laboral y recursos humanos', 160, 395, 'l', 'font-size:33px;font-weight:bold');
['Servicios de asesoría laboral, gestión', 'de nóminas y recursos humanos con', 'prevención de riesgos y auditoría'].forEach(function(line, i) {
  addText(panel, line, 160, 469 + i * 32, 'l', 'font-size:27.8px');
});
addText(panel, 'Total empresas: 571', 160, 650, 'l', 'font-size:30.2px;font-weight:bold');
const rule = document.createElement('div');
rule.style.cssText = 'position:absolute;left:159px;top:689px;width:605px;height:2px;background:#999';
panel.appendChild(rule);
addText(panel, 'Top 3 empresas (empleados)', 160, 754, 'l', 'font-size:25.1px');
['Control Laboral (639)', 'Norma Basica sl (635)', 'Subcontratas y (40)'].forEach(function(line, i) {
  addText(panel, line, 160, 813 + i * 42.5, 'l', 'font-size:22.8px;font-style:italic');
});
addText(panel, 'Principales keywords', 160, 995, 'l', 'font-size:25.4px;font-weight:bold');
['Asesoría laboral, Gestión de nóminas, Consultoría laboral,', 'Prevención de riesgos, Auditoría laboral, Gestión recursos', 'humanos, Consultoría recursos humanos, Asesoría jurídica', 'laboral, Gestión seguridad social, Externalización de', 'nóminas, Gestión de contratos, Plan de igualdad,', 'Cumplimiento normativo laboral, Revisión de convenios,', 'Gestión de bajas'].forEach(function(line, i) {
  addText(panel, line, 160, 1035.5 + i * 26.9, 'l', 'font-size:22.9px');
});
addText(panel, 'Descripción del cluster', 160, 1348, 'l', 'font-size:25.4px;font-weight:bold');
['Esta recopilación reúne soluciones integrales para la', 'gestión del personal y el cumplimiento normativo en las', 'empresas. La asesoría laboral se combina con la', 'externalización de nóminas, la consultoría de recursos', 'humanos y la prevención de riesgos, ofreciendo un abanico', 'completo que cubre desde la elaboración de contratos hasta', 'la auditoría socio-laboral. Los despachos y gestorías', 'también proporcionan apoyo en la gestión de la Seguridad', 'Social, la tramitación de altas y bajas, y la', 'implementación de planes de igualdad y cumplimiento de la', 'normativa laboral. Además, la asesoría fiscal y contable', 'complementa la oferta, permitiendo a pymes y autónomos', 'delegar tareas complejas y centrarse en su actividad', 'principal mientras mantienen la tranquilidad de estar al', 'día con la legislación vigente.'].forEach(function(line, i) {
  addText(panel, line, 160, 1389 + i * 26.6, 'l', 'font-size:22.85px;color:#444');
});

// Leyenda de colores
const legend = document.getElementById('legend');
addText(legend, 'Referencias de colores', 3225, 1983, 'l', 'font-size:27.6px');
legendLabels.forEach(function(label, i) {
  const y = 2052.6 + i * 38.4;
  const patch = document.createElement('div');
  patch.style.cssText = 'position:absolute;left:3225px;top:' + (y - 7.5) + 'px;width:49px;height:15px;background:' + legendColors[i];
  legend.appendChild(patch);
  addText(legend, label, 3296, y, 'l', 'font-size:25.1px');
});
</script>
</body>
</html>
